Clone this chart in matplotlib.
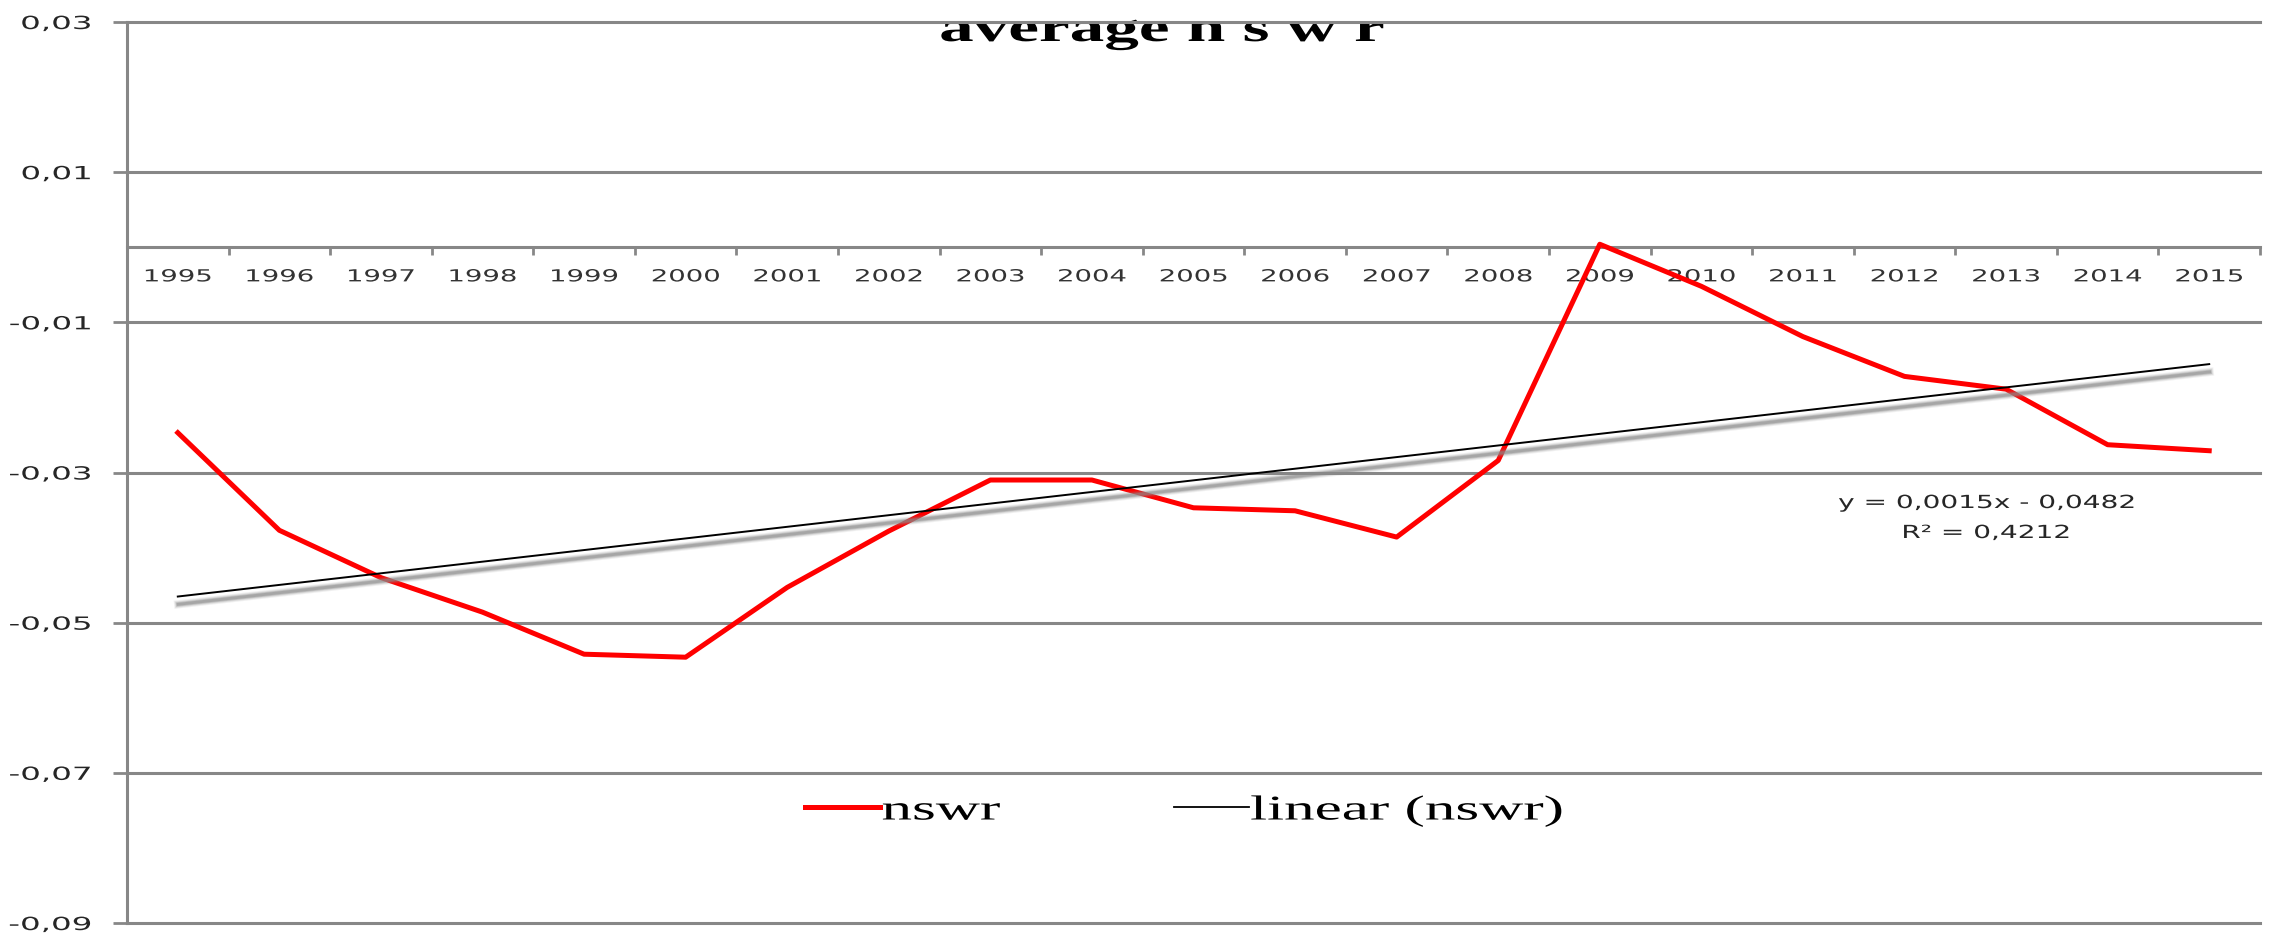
import numpy as np
import matplotlib
matplotlib.use("Agg")
import matplotlib.pyplot as plt
from matplotlib.patheffects import AbstractPathEffect, SimpleLineShadow, Normal
from matplotlib.transforms import Affine2D
from matplotlib.lines import Line2D

# ---------------- data ----------------
years = ["1995", "1996", "1997", "1998", "1999", "2000", "2001", "2002", "2003",
         "2004", "2005", "2006", "2007", "2008", "2009", "2010", "2011", "2012",
         "2013", "2014", "2015"]
nswr = [-0.0247, -0.0377, -0.0440, -0.0486, -0.0542, -0.0546, -0.0453, -0.0378,
        -0.0310, -0.0310, -0.0347, -0.0351, -0.0386, -0.0284, 0.0004, -0.0052,
        -0.0119, -0.0172, -0.0189, -0.0263, -0.0271]
ytick_values = [0.03, 0.01, -0.01, -0.03, -0.05, -0.07, -0.09]
ytick_labels = ["0,03", "0,01", "-0,01", "-0,03", "-0,05", "-0,07", "-0,09"]
title_text = "average n s w r"
series_label = "nswr"
trend_label = "linear (nswr)"
equation_text = "y = 0,0015x - 0,0482"
r2_text = "R\u00b2 = 0,4212"

GRAY = "#878787"
W, H = 2275, 933


class HStretch(AbstractPathEffect):
    """Draw text glyphs stretched horizontally (text stays a Text artist)."""
    def __init__(self, sx, anchor="center"):
        super().__init__()
        self.sx = sx
        self.anchor = anchor

    def draw_path(self, renderer, gc, tpath, affine, rgbFace=None):
        ext = tpath.get_extents(affine)
        if self.anchor == "left":
            x0 = ext.x0
        elif self.anchor == "right":
            x0 = ext.x1
        else:
            x0 = 0.5 * (ext.x0 + ext.x1)
        new = affine + Affine2D().translate(-x0, 0).scale(self.sx, 1).translate(x0, 0)
        renderer.draw_path(gc, tpath, new, rgbFace)


fig = plt.figure(figsize=(W / 100, H / 100), dpi=100, facecolor="white")
ax = fig.add_axes([127 / W, 1 - 923 / H, (2260 - 127) / W, (923 - 22) / H])
ax.patch.set_visible(False)

x = np.arange(len(years))
ax.set_xlim(-0.5, len(years) - 0.5)
ax.set_ylim(-0.09, 0.03)

# series
ax.plot(x, nswr, color="#ff0000", lw=3.6, solid_joinstyle="round", zorder=3)

# linear trend from the data, with a soft shadow
coef = np.polyfit(x + 1, nswr, 1)
shadow = [SimpleLineShadow(offset=(0.3, -5.6), shadow_color="#8a8a8a",
                           alpha=a, linewidth=lw)
          for lw, a in [(6.0, 0.12), (4.6, 0.2), (3.2, 0.35), (2.0, 0.45)]]
ax.plot(x, np.polyval(coef, x + 1), color="black", lw=1.4, zorder=4,
        path_effects=shadow + [Normal()])

# spines
for s in ["top", "right"]:
    ax.spines[s].set_visible(False)
ax.spines["left"].set_color(GRAY)
ax.spines["left"].set_linewidth(2.2)
ax.spines["bottom"].set_position(("data", 0))
ax.spines["bottom"].set_color(GRAY)
ax.spines["bottom"].set_linewidth(2.2)

# y axis
ax.set_yticks(ytick_values)
ylabs = ax.set_yticklabels(ytick_labels)
ax.tick_params(axis="y", direction="out", length=10, width=2.0, color=GRAY,
               pad=16, labelsize=13, labelcolor="#262626")
for t in ylabs:
    t.set_family("DejaVu Sans")
    t.set_path_effects([HStretch(1.8, "right")])
ax.yaxis.grid(True, color=GRAY, lw=2.2)
for gl in ax.get_ygridlines():
    gl.set_clip_on(False)

# x axis: ticks between categories, labels at centres
ax.set_xticks(np.arange(-0.5, len(years), 1.0))
ax.set_xticklabels([])
ax.set_xticks(x, minor=True)
xlabs = ax.set_xticklabels(years, minor=True)
ax.tick_params(axis="x", which="major", direction="out", length=5.8, width=2.0,
               color=GRAY)
ax.tick_params(axis="x", which="minor", length=0, pad=14.5, labelsize=12,
               labelcolor="#333333")
for t in xlabs:
    t.set_family("DejaVu Sans")
    t.set_path_effects([HStretch(1.65, "center")])

# title (drawn beneath the axes lines, as in the original)
fig.text(940 / W, 1 - 41 / H, title_text, fontsize=30, fontweight="bold",
         family="Liberation Serif", ha="left", va="baseline", zorder=-1,
         path_effects=[HStretch(1.66, "left")])

# trendline equation
for txt, yy in [(equation_text, 503), (r2_text, 533)]:
    fig.text(1986 / W, 1 - yy / H, txt, fontsize=13, family="DejaVu Sans",
             color="#262626", ha="center", va="center",
             path_effects=[HStretch(1.55, "center")])

# legend
handles = [Line2D([], [], color="#ff0000", lw=3.6),
           Line2D([], [], color="black", lw=1.3)]
leg = fig.legend(handles, [series_label, trend_label], loc="center left",
                 bbox_to_anchor=(805 / W, 1 - 811 / H), ncol=2, frameon=False,
                 borderpad=0, borderaxespad=0, handlelength=2.16,
                 handletextpad=0.06, columnspacing=6.45,
                 prop={"family": "Liberation Serif", "size": 25})
for t in leg.get_texts():
    t.set_path_effects([HStretch(1.76, "left")])

fig.savefig("out.png", dpi=100, facecolor="white")
